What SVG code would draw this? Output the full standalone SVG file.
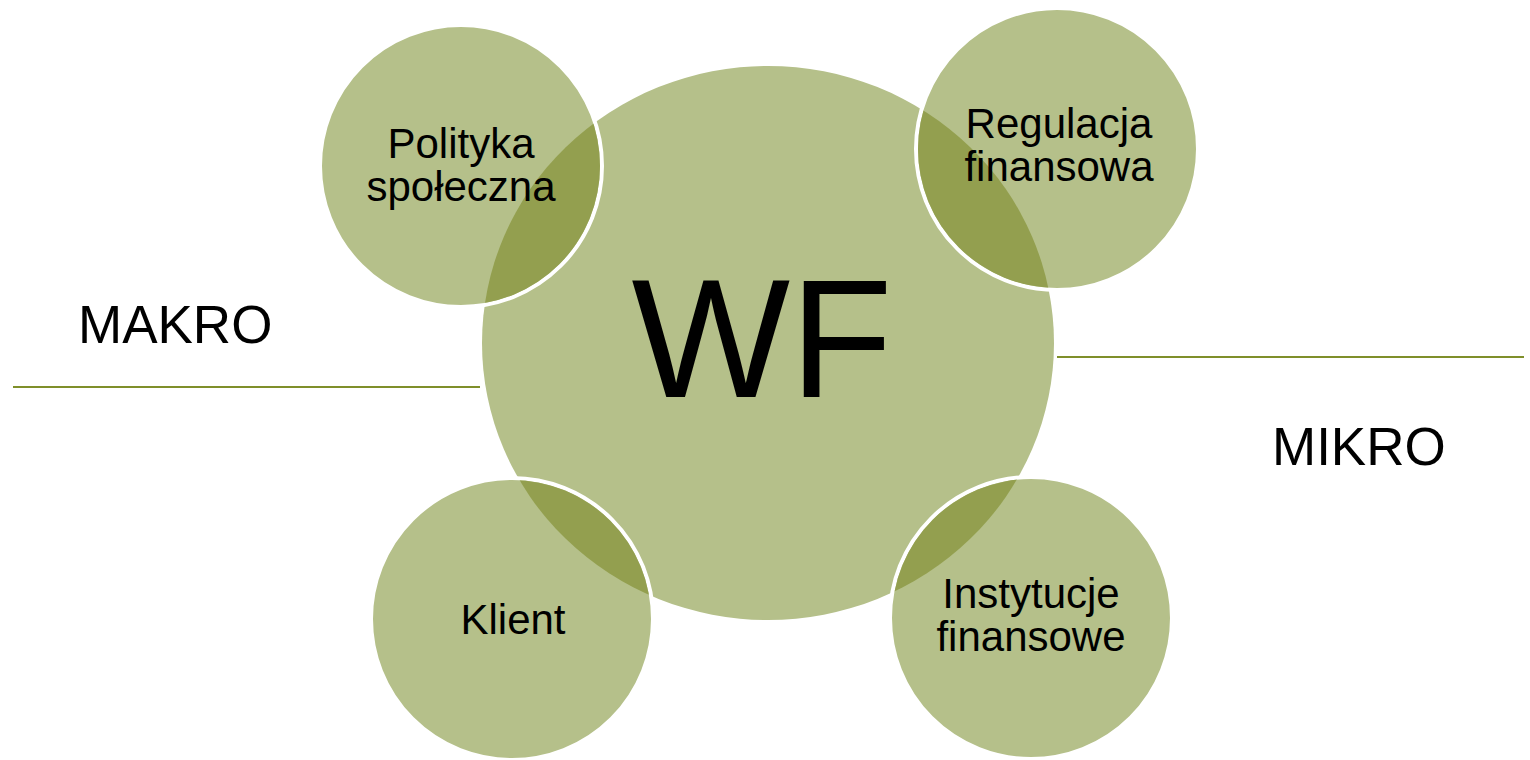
<svg xmlns="http://www.w3.org/2000/svg" width="1530" height="760" viewBox="0 0 1530 760">
<style>
.light{fill:#b5c08a}
.ring{fill:#b5c08a;stroke:#ffffff;stroke-width:4}
.dark{fill:#939f4f}
.lbl{font-family:"Liberation Sans",Arial,sans-serif;font-size:42px;fill:#000;text-anchor:middle}
.side{font-family:"Liberation Sans",Arial,sans-serif;font-size:53px;fill:#000}
.sep{stroke:#7f8f2a;stroke-width:2;fill:none}
</style>
<defs>
<clipPath id="bigclip"><ellipse cx="768" cy="343" rx="286" ry="277"/></clipPath>
</defs>
<rect width="1530" height="760" fill="#ffffff"/>
<g id="connectors">
<line class="sep" x1="13" y1="387" x2="480" y2="387"/>
<line class="sep" x1="1057" y1="357" x2="1524" y2="357"/>
</g>
<g id="wf">
<ellipse class="light" cx="768" cy="343" rx="286" ry="277"/>
</g>
<g id="polityka">
<circle class="ring" cx="461" cy="166" r="141"/>
<circle class="dark" cx="461" cy="166" r="139" clip-path="url(#bigclip)"/>
<text class="lbl" x="461" y="158">Polityka</text>
<text class="lbl" x="461" y="201">społeczna</text>
</g>
<g id="regulacja">
<circle class="ring" cx="1057" cy="149" r="141"/>
<circle class="dark" cx="1057" cy="149" r="139" clip-path="url(#bigclip)"/>
<text class="lbl" x="1059" y="138">Regulacja</text>
<text class="lbl" x="1059" y="181">finansowa</text>
</g>
<g id="klient">
<circle class="ring" cx="512" cy="619" r="141"/>
<circle class="dark" cx="512" cy="619" r="139" clip-path="url(#bigclip)"/>
<text class="lbl" x="513" y="634">Klient</text>
</g>
<g id="instytucje">
<circle class="ring" cx="1031" cy="618" r="141"/>
<circle class="dark" cx="1031" cy="618" r="139" clip-path="url(#bigclip)"/>
<text class="lbl" x="1031" y="608">Instytucje</text>
<text class="lbl" x="1031" y="651">finansowe</text>
</g>
<g id="wf-label">
<text x="762" y="397" style="font-family:'Liberation Sans',Arial,sans-serif;font-size:168px;fill:#000;text-anchor:middle">WF</text>
</g>
<g id="makro"><text class="side" x="78" y="343">MAKRO</text></g>
<g id="mikro"><text class="side" x="1272" y="465">MIKRO</text></g>
</svg>
